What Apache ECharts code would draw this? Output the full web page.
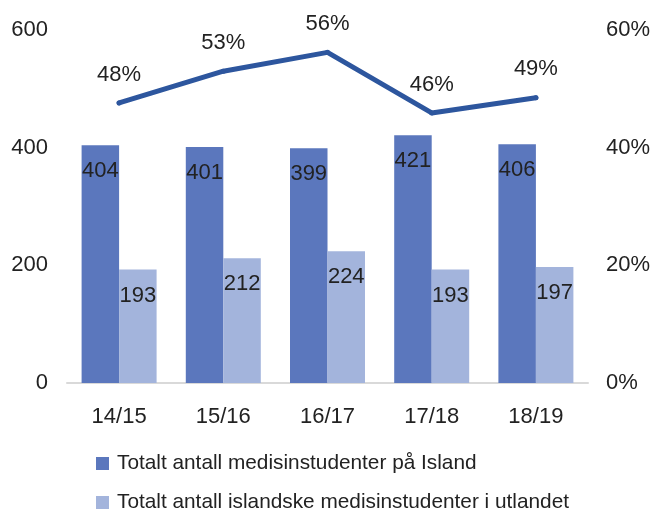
<!DOCTYPE html>
<html>
<head>
<meta charset="utf-8">
<script src="https://cdn.jsdelivr.net/npm/echarts@6/dist/echarts.min.js"></script>
<style>
html,body{margin:0;padding:0;background:#fff;}
#chart{width:650px;height:511px;}
</style>
</head>
<body>
<div id="chart"></div>
<script>
var categories = ['14/15', '15/16', '16/17', '17/18', '18/19'];
var seriesNames = ['Totalt antall medisinstudenter på Island', 'Totalt antall islandske medisinstudenter i utlandet'];
var studentsIceland = [404, 401, 399, 421, 406];
var studentsAbroad = [193, 212, 224, 193, 197];
var shareValues = [0.476, 0.530, 0.562, 0.459, 0.485];
var leftTicks = [0, 200, 400, 600];
var rightTicks = [0, 0.2, 0.4, 0.6];

var FONT = '"Liberation Sans", Arial, sans-serif';
var legendText = {fontFamily: FONT, fontSize: 20.8, color: '#222', padding: [0, 0, 0, 3]};
var chart = echarts.init(document.getElementById('chart'), null, {renderer: 'canvas'});
chart.setOption({
  animation: false,
  textStyle: {fontFamily: FONT},
  grid: {left: 67, right: 62, top: 30, bottom: 128, containLabel: false, outerBoundsMode: 'none'},
  legend: [{
    orient: 'horizontal',
    left: 96,
    top: 453,
    padding: [0, 0, 0, 0],
    itemWidth: 13,
    itemHeight: 13,
    icon: 'rect',
    data: [seriesNames[0]],
    textStyle: legendText
  }, {
    orient: 'horizontal',
    left: 96,
    top: 492,
    padding: [0, 0, 0, 0],
    itemWidth: 13,
    itemHeight: 13,
    icon: 'rect',
    data: [seriesNames[1]],
    textStyle: legendText
  }],
  xAxis: {
    type: 'category',
    data: categories,
    axisLine: {show: true, lineStyle: {color: '#d9d9d9', width: 2}},
    axisTick: {show: false},
    axisLabel: {fontSize: 22, color: '#222', margin: 23, fontFamily: FONT}
  },
  yAxis: [{
    type: 'value',
    min: leftTicks[0],
    max: leftTicks[leftTicks.length - 1],
    interval: 200,
    splitLine: {show: false},
    axisLine: {show: false},
    axisTick: {show: false},
    axisLabel: {fontSize: 22, color: '#222', margin: 19, fontFamily: FONT}
  }, {
    type: 'value',
    min: rightTicks[0],
    max: rightTicks[rightTicks.length - 1],
    interval: 0.2,
    splitLine: {show: false},
    axisLine: {show: false},
    axisTick: {show: false},
    axisLabel: {fontSize: 22, color: '#222', margin: 18, fontFamily: FONT,
      formatter: function (v) { return Math.round(v * 100) + '%'; }}
  }],
  series: [{
    name: seriesNames[0],
    type: 'bar',
    data: studentsIceland,
    barWidth: 37.5,
    barGap: '0%',
    itemStyle: {color: '#5B77BD'},
    label: {show: true, position: 'insideTop', distance: 15, fontSize: 22, color: '#222', fontFamily: FONT}
  }, {
    name: seriesNames[1],
    type: 'bar',
    data: studentsAbroad,
    barWidth: 37.5,
    itemStyle: {color: '#A3B4DC'},
    label: {show: true, position: 'insideTop', distance: 15, fontSize: 22, color: '#222', fontFamily: FONT}
  }, {
    name: 'share',
    type: 'line',
    yAxisIndex: 1,
    data: shareValues,
    symbol: 'circle',
    symbolSize: 5,
    showSymbol: true,
    itemStyle: {color: '#2D569E'},
    lineStyle: {color: '#2D569E', width: 5, cap: 'round'},
    label: {show: true, position: 'top', distance: 15, fontSize: 22, color: '#222', fontFamily: FONT,
      formatter: function (p) { return Math.round(p.value * 100) + '%'; }},
    labelLayout: {hideOverlap: false}
  }]
});
</script>
</body>
</html>
